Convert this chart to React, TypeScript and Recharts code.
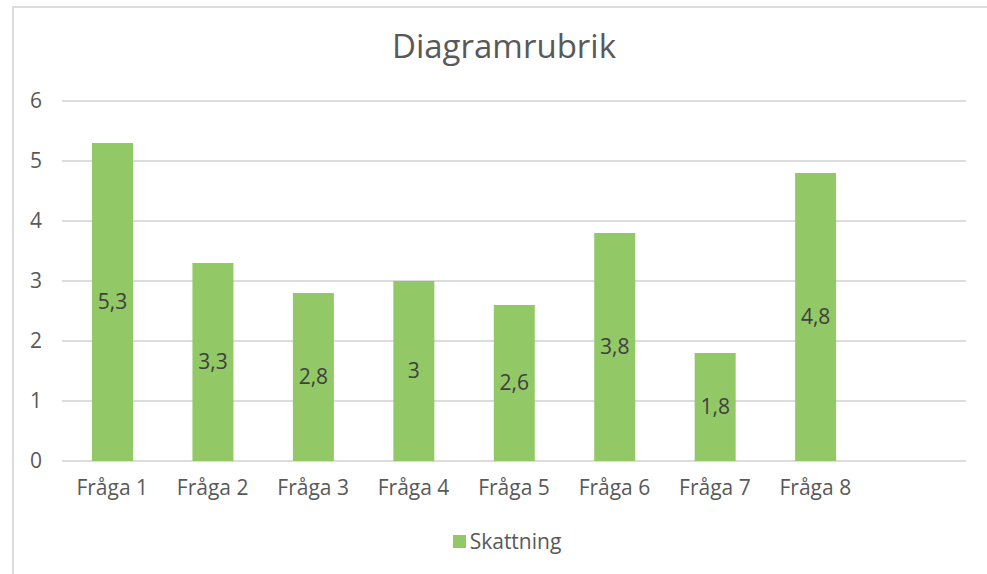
import React from "react";
import { BarChart, Bar, XAxis, YAxis, CartesianGrid, LabelList, Legend } from "recharts";

const categories = ["Fråga 1", "Fråga 2", "Fråga 3", "Fråga 4", "Fråga 5", "Fråga 6", "Fråga 7", "Fråga 8", ""];
const skattning: (number | null)[] = [5.3, 3.3, 2.8, 3, 2.6, 3.8, 1.8, 4.8, null];
const yTicks = [0, 1, 2, 3, 4, 5, 6];
const seriesName = "Skattning";
const title = "Diagramrubrik";

const data = categories.map((c, i) => ({ name: c, value: skattning[i] }));

const FONT = "'Open Sans', sans-serif";
const GREEN = "#92c966";
const TEXT = "#595959";

const fmt = (v: any) => (v == null ? "" : String(v).replace(".", ","));

const LegendContent = () => (
  <div style={{ display: "flex", justifyContent: "center", alignItems: "center", paddingLeft: 27, fontFamily: FONT, fontSize: 21, color: TEXT }}>
    <span style={{ display: "inline-block", width: 13, height: 13, background: GREEN, marginRight: 4 }} />
    <span>{seriesName}</span>
  </div>
);

export default function App() {
  return (
    <div style={{ position: "absolute", left: 0, top: 0, width: 987, height: 574, background: "#fff", overflow: "hidden" }}>
      <div style={{ position: "absolute", left: 12, top: 6, width: 1000, height: 600, borderLeft: "2px solid #dcdcdc", borderTop: "2px solid #dcdcdc" }} />
      <div style={{ position: "absolute", left: 21, width: 966, top: 29, textAlign: "center", fontFamily: FONT, fontSize: 33, lineHeight: "33px", color: TEXT }}>
        {title}
      </div>
      <div style={{ position: "absolute", left: 0, top: 0 }}>
        <BarChart width={987} height={574} data={data} margin={{ top: 101, right: 21, bottom: 73, left: 0 }}>
          <CartesianGrid vertical={false} stroke="#dcdcdc" strokeWidth={2} />
          <XAxis
            dataKey="name"
            height={40}
            axisLine={false}
            tickLine={false}
            tickSize={0}
            tickMargin={19}
            interval={0}
            tick={{ fill: TEXT, fontSize: 21, fontFamily: FONT }}
          />
          <YAxis
            width={62}
            domain={[0, 6]}
            ticks={yTicks}
            axisLine={false}
            tickLine={false}
            tickSize={0}
            tickMargin={20}
            tick={{ fill: TEXT, fontSize: 21, fontFamily: FONT }}
          />
          <Legend
            layout="horizontal"
            verticalAlign="middle"
            align="center"
            wrapperStyle={{ top: 527, left: 0, width: 987 }}
            content={<LegendContent />}
          />
          <Bar dataKey="value" name={seriesName} fill={GREEN} barSize={41} isAnimationActive={false}>
            <LabelList dataKey="value" position="center" formatter={fmt} fill="#404040" fontSize={21} fontFamily={FONT} />
          </Bar>
        </BarChart>
      </div>
    </div>
  );
}
